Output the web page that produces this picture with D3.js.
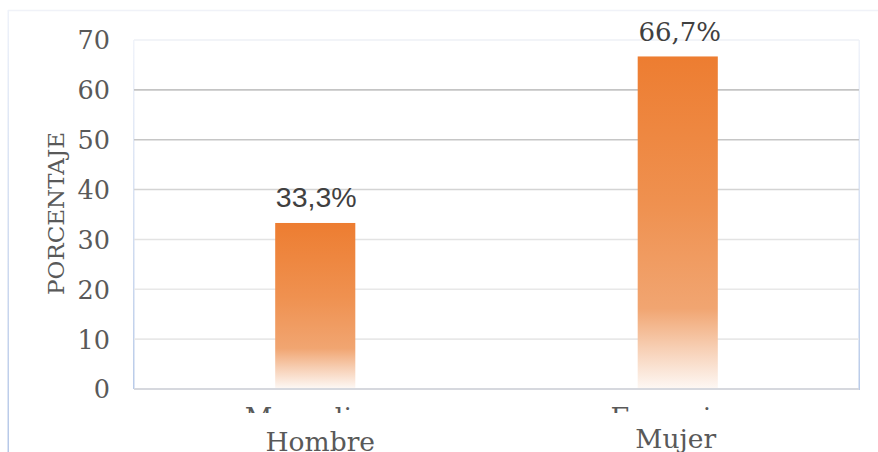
<!DOCTYPE html>
<html>
<head>
<meta charset="utf-8">
<script src="https://cdn.jsdelivr.net/npm/d3@7/dist/d3.min.js"></script>
<style>
  html, body { margin: 0; padding: 0; background: #ffffff; }
  svg { display: block; }
</style>
</head>
<body>
<svg id="chart" width="878" height="452"></svg>
<script>
// Data
const categoryKeys = ["Masculino", "Femenino"];
const categoryNames = ["Hombre", "Mujer"];
const percentages = [33.3, 66.7];
const percentLabels = ["33,3%", "66,7%"];
const yTicks = [0, 10, 20, 30, 40, 50, 60, 70];
const gridColors = ["#d6d8de", "#e8e8e8", "#e8e8e8", "#e3e3e3", "#d4d4d4", "#c6c6c6", "#c4c4c4", "#eef0f6"];
const yTitle = "PORCENTAJE";

const svg = d3.select("#chart");
const W = 878, H = 452;
const plot = { left: 134, right: 859, top: 40, bottom: 389 };
const serif = "'DejaVu Serif', 'Liberation Serif', serif";
const textColor = "#595959";

const x = d3.scaleBand()
  .domain(categoryKeys)
  .range([plot.left, plot.right])
  .paddingInner(0.779)
  .paddingOuter(0.3895);

const y = d3.scaleLinear().domain([0, 70]).range([plot.bottom, plot.top]);

const defs = svg.append("defs");

// Bar fill: solid orange at the top fading to white at the base
const barGrad = defs.append("linearGradient")
  .attr("id", "barFill").attr("x1", 0).attr("y1", 0).attr("x2", 0).attr("y2", 1);
barGrad.append("stop").attr("offset", "0").attr("stop-color", "#ed7d31");
barGrad.append("stop").attr("offset", "0.45").attr("stop-color", "#ef9150");
barGrad.append("stop").attr("offset", "0.76").attr("stop-color", "#f1a571");
barGrad.append("stop").attr("offset", "0.88").attr("stop-color", "#f7cfb4");
barGrad.append("stop").attr("offset", "1").attr("stop-color", "#fdf7f3");

// Blue frame edges, pale at the top and deeper at the bottom
const edgeGrad = defs.append("linearGradient")
  .attr("id", "edgeFill").attr("gradientUnits", "userSpaceOnUse")
  .attr("x1", 0).attr("y1", 10).attr("x2", 0).attr("y2", 452);
edgeGrad.append("stop").attr("offset", "0").attr("stop-color", "#eef2fa");
edgeGrad.append("stop").attr("offset", "1").attr("stop-color", "#b6c8e8");

const plotEdge = defs.append("linearGradient")
  .attr("id", "plotEdge").attr("gradientUnits", "userSpaceOnUse")
  .attr("x1", 0).attr("y1", plot.top).attr("x2", 0).attr("y2", plot.bottom);
plotEdge.append("stop").attr("offset", "0").attr("stop-color", "#f0f3fa");
plotEdge.append("stop").attr("offset", "1").attr("stop-color", "#b9cbe9");

// The category axis labels only show above the name boxes
defs.append("clipPath").attr("id", "axisLabelClip")
  .append("rect").attr("x", 0).attr("y", 0).attr("width", W).attr("height", 413);

// Chart outer frame
svg.append("line").attr("x1", 8).attr("x2", W).attr("y1", 10.5).attr("y2", 10.5)
  .attr("stroke", "#f0f2f8").attr("stroke-width", 1.5);
svg.append("rect").attr("x", 7.5).attr("y", 10).attr("width", 1.5).attr("height", H - 10)
  .attr("fill", "url(#edgeFill)");

// Plot area edges
svg.append("rect").attr("x", plot.left - 1).attr("y", plot.top).attr("width", 1.5)
  .attr("height", plot.bottom - plot.top).attr("fill", "url(#plotEdge)");
svg.append("rect").attr("x", plot.right - 0.5).attr("y", plot.top).attr("width", 1.5)
  .attr("height", plot.bottom - plot.top + 1).attr("fill", "url(#plotEdge)");

// Horizontal gridlines
svg.append("g").selectAll("line")
  .data(yTicks)
  .join("line")
  .attr("x1", plot.left).attr("x2", plot.right)
  .attr("y1", d => y(d)).attr("y2", d => y(d))
  .attr("stroke", (d, i) => gridColors[i])
  .attr("stroke-width", d => d === 0 ? 2.2 : 1.6);

// Y axis tick labels
const yAxis = d3.axisLeft(y).tickValues(yTicks).tickSize(0).tickPadding(24);
const yG = svg.append("g").attr("transform", `translate(${plot.left},0)`).call(yAxis);
yG.select(".domain").remove();
yG.selectAll("text")
  .attr("font-family", serif).attr("font-size", 25.5).attr("fill", textColor)
  .attr("dy", "0.35em");

// Y axis title
svg.append("text")
  .attr("transform", `translate(64,${(130 + 297) / 2}) rotate(-90)`)
  .attr("text-anchor", "middle")
  .attr("font-family", serif).attr("font-size", 23).attr("fill", textColor)
  .text(yTitle);

// Bars
svg.append("g").selectAll("rect")
  .data(percentages)
  .join("rect")
  .attr("x", (d, i) => x(categoryKeys[i]))
  .attr("width", x.bandwidth())
  .attr("y", d => y(d))
  .attr("height", d => y(0) - y(d) - 1)
  .attr("fill", "url(#barFill)");

// Value labels
svg.append("g").selectAll("text")
  .data(percentages)
  .join("text")
  .attr("x", (d, i) => x(categoryKeys[i]) + x.bandwidth() / 2 + (i === 0 ? 1 : 2))
  .attr("y", d => y(d) - (d < 50 ? 16 : 15))
  .attr("text-anchor", "middle")
  .attr("font-family", (d, i) => i === 0 ? "'Liberation Sans', Arial, sans-serif" : serif)
  .attr("font-size", (d, i) => i === 0 ? 28.5 : 26)
  .attr("fill", "#404040")
  .text((d, i) => percentLabels[i]);

// Category axis labels, cut off where the name boxes begin
const xClip = svg.append("g").attr("clip-path", "url(#axisLabelClip)");
const xAxis = d3.axisBottom(x).tickSize(0).tickPadding(0);
const xG = xClip.append("g").attr("transform", `translate(0,${plot.bottom})`).call(xAxis);
xG.select(".domain").remove();
xG.selectAll("text")
  .attr("font-family", serif).attr("font-size", 27).attr("fill", textColor)
  .attr("dy", 0).attr("y", 39);

// Category names
svg.append("g").selectAll("text")
  .data(categoryNames)
  .join("text")
  .attr("x", (d, i) => x(categoryKeys[i]) + x.bandwidth() / 2 + (i === 0 ? 5 : -2))
  .attr("y", (d, i) => i === 0 ? 451 : 448)
  .attr("text-anchor", "middle")
  .attr("font-family", serif).attr("font-size", 26.5).attr("fill", textColor)
  .text(d => d);
</script>
</body>
</html>
